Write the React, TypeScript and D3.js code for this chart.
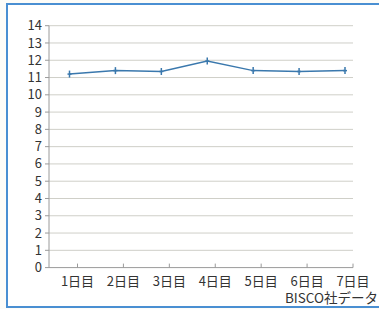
import React from "react";
import * as d3 from "d3";

const width = 379;
const height = 309;

const days = ["1日目", "2日目", "3日目", "4日目", "5日目", "6日目", "7日目"];
const values = [11.2, 11.4, 11.35, 11.95, 11.4, 11.35, 11.4];
const yTicks = d3.range(0, 15);
const source = "BISCO社データ";

const left = 49;
const right = 353;
const top = 25.7;
const bottom = 267.6;
const tickShift = 8; // category ticks sit a little right of the points

const x = d3.scalePoint<string>().domain(days).range([69.5, 345]);
const y = d3.scaleLinear().domain([0, 14]).range([bottom, top]);

const line = d3
  .line<number>()
  .x((_, i) => x(days[i]) as number)
  .y((d) => y(d));

const font = "'Noto Sans CJK JP', 'Noto Sans', sans-serif";

const App = () => {
  return (
    <svg
      width={width}
      height={height}
      style={{ position: "absolute", left: 0, top: 0, background: "#fff" }}
    >
      {/* frame */}
      <rect x={0} y={0} width={width} height={height} fill="#fdfcf8" />
      <rect x={7} y={4} width={width} height={303} fill="#fff" stroke="#4a8fd2" strokeWidth={2} />

      {/* grid */}
      {yTicks.map((t) => (
        <g key={t}>
          {t > 0 && (
            <line x1={left} x2={right} y1={y(t)} y2={y(t)} stroke="#cfcfc8" strokeWidth={1} />
          )}
          <line x1={left - 4} x2={left} y1={y(t)} y2={y(t)} stroke="#9a9a9a" />
          <text
            x={42}
            y={y(t)}
            dy="0.35em"
            textAnchor="end"
            fontSize={13}
            fontFamily={font}
            fill="#333"
          >
            {t}
          </text>
        </g>
      ))}

      {/* axes */}
      <line x1={left} x2={left} y1={top} y2={bottom} stroke="#9a9a9a" />
      <line x1={left} x2={right} y1={bottom} y2={bottom} stroke="#9a9a9a" />
      {days.map((d) => {
        const tx = (x(d) as number) + tickShift;
        return (
          <g key={d}>
            <line x1={tx} x2={tx} y1={bottom} y2={bottom - 4} stroke="#9a9a9a" />
            <text
              x={tx}
              y={281.5}
              dy="0.35em"
              textAnchor="middle"
              fontSize={13}
              fontFamily={font}
              fill="#333"
            >
              {d}
            </text>
          </g>
        );
      })}

      {/* series */}
      <path d={line(values) ?? ""} fill="none" stroke="#3a78ad" strokeWidth={1.5} />
      {values.map((v, i) => {
        const px = x(days[i]) as number;
        const py = y(v);
        return (
          <g key={i} stroke="#3a78ad" strokeWidth={1.5}>
            <line x1={px} x2={px} y1={py - 3.5} y2={py + 3.5} />
            <line x1={px - 2} x2={px + 2} y1={py} y2={py} />
          </g>
        );
      })}

      <text x={285} y={303} fontSize={13.5} fontFamily={font} fill="#333">
        {source}
      </text>
    </svg>
  );
};

export default App;
